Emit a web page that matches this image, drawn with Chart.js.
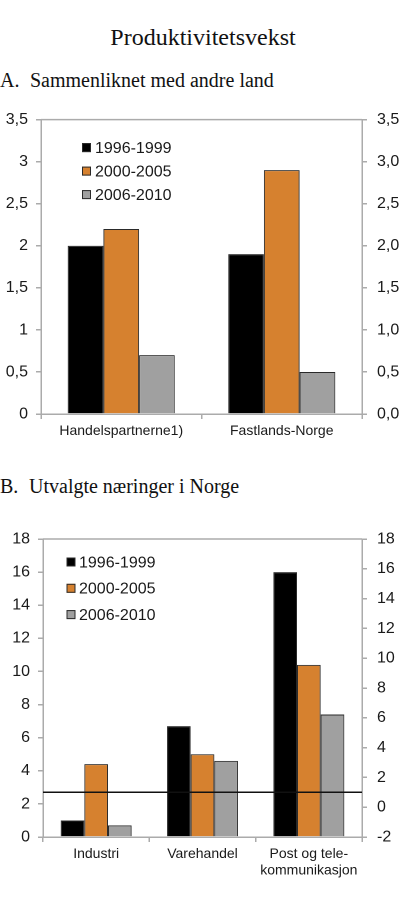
<!DOCTYPE html>
<html>
<head>
<meta charset="utf-8">
<script src="https://cdn.jsdelivr.net/npm/chart.js@4.4.1/dist/chart.umd.min.js"></script>
<style>
  html, body { margin: 0; padding: 0; background: #fff; }
  body { width: 400px; height: 905px; position: relative; overflow: hidden; }
  .t { position: absolute; font-family: "Liberation Serif", "Times New Roman", serif; color: #111; white-space: nowrap; line-height: 1; }
  #title { font-size: 24px; left: 0; width: 406px; text-align: center; top: 25px; }
  .sub { font-size: 20px; }
  .cv { position: absolute; left: 0; }
</style>
</head>
<body>
<div class="t" id="title">Produktivitetsvekst</div>
<div class="t sub" style="left:0;top:70px;">A.</div>
<div class="t sub" style="left:30px;top:70px;">Sammenliknet med andre land</div>
<div class="t sub" style="left:0;top:476px;">B.</div>
<div class="t sub" style="left:29px;top:476px;">Utvalgte næringer i Norge</div>
<canvas id="cA" class="cv" style="top:100px;" width="400" height="350"></canvas>
<canvas id="cB" class="cv" style="top:500px;" width="400" height="405"></canvas>
<script>
// ---- Data ----
const seriesLabels = ['1996-1999', '2000-2005', '2006-2010'];
const seriesColors = ['#000000', '#D6812F', '#A0A0A0'];

const categoriesA = ['Handelspartnerne1)', 'Fastlands-Norge'];
const a1996 = [2.0, 1.9];
const a2000 = [2.2, 2.9];
const a2006 = [0.7, 0.5];

const categoriesB = ['Industri', 'Varehandel', ['Post og tele-', 'kommunikasjon']];
const b1996 = [1.0, 6.7, 16.0];
const b2000 = [4.4, 5.0, 10.4];
const b2006 = [0.7, 4.6, 7.4];

const axisA = { min: 0, max: 3.5, step: 0.5 };
const axisB = { min: 0, max: 18, step: 2 };
const axisB2 = { min: -2, max: 18, step: 2 };
const refLineB = 1; // value on right axis of panel B

// ---- Styling helpers ----
const FONT = '"Liberation Sans", Arial, sans-serif';
const TXT = '#1a1a1a';
const FRAME = '#ababab';

function makeDatasets(vals) {
  return vals.map((v, i) => ({
    label: seriesLabels[i],
    data: v,
    backgroundColor: seriesColors[i],
    borderColor: '#2a2a2a',
    borderWidth: 1,
    categoryPercentage: 0.667,
    barPercentage: 1.0,
    yAxisID: 'y'
  }));
}

const framePlugin = {
  id: 'frame',
  beforeDatasetsDraw(chart) {
    const { ctx, chartArea: a } = chart;
    ctx.save();
    ctx.strokeStyle = FRAME;
    ctx.lineWidth = 1.5;
    ctx.beginPath();
    ctx.moveTo(a.left, a.top);
    ctx.lineTo(a.right, a.top);
    ctx.stroke();
    ctx.restore();
  }
};

const legendPlugin = {
  id: 'customLegend',
  afterDatasetsDraw(chart, args, opts) {
    const { ctx, chartArea: a } = chart;
    ctx.save();
    chart.data.datasets.forEach((ds, i) => {
      const cy = a.top + opts.y + i * opts.gap;
      const x = a.left + opts.x;
      ctx.fillStyle = ds.backgroundColor;
      ctx.fillRect(x, cy - 4.5, 9, 9);
      ctx.strokeStyle = '#2a2a2a';
      ctx.lineWidth = 1;
      ctx.strokeRect(x + 0.5, cy - 4, 8, 8);
      ctx.fillStyle = TXT;
      ctx.font = '16px ' + FONT;
      ctx.textBaseline = 'middle';
      ctx.textAlign = 'left';
      ctx.fillText(ds.label, x + opts.textDx, cy + 1);
    });
    ctx.restore();
  }
};

const refLinePlugin = {
  id: 'refLine',
  afterDatasetsDraw(chart, args, opts) {
    if (opts.value === undefined) return;
    const { ctx, chartArea: a } = chart;
    const y = chart.scales[opts.axis].getPixelForValue(opts.value);
    ctx.save();
    ctx.strokeStyle = '#111';
    ctx.lineWidth = 1.5;
    ctx.beginPath();
    ctx.moveTo(a.left, y);
    ctx.lineTo(a.right, y);
    ctx.stroke();
    ctx.restore();
  }
};

function fmtComma(v, fixed) {
  const s = fixed ? Number(v).toFixed(1) : String(Math.round(v * 10) / 10);
  return s.replace('.', ',');
}

function makeChart(id, cats, vals, o) {
  return new Chart(document.getElementById(id), {
    type: 'bar',
    data: { labels: cats, datasets: makeDatasets(vals) },
    plugins: [framePlugin, legendPlugin, refLinePlugin],
    options: {
      responsive: false,
      animation: false,
      devicePixelRatio: 2,
      layout: { padding: { top: o.padTop, left: 0, right: 0, bottom: 0 } },
      plugins: {
        legend: { display: false },
        tooltip: { enabled: false },
        customLegend: o.legend,
        refLine: o.ref || {}
      },
      scales: {
        x: {
          grid: { drawOnChartArea: false, drawTicks: true, tickLength: 5, color: FRAME, lineWidth: 1.5, offset: true },
          border: { display: true, color: FRAME, width: 1.5 },
          ticks: { color: TXT, font: { family: FONT, size: 14, lineHeight: 1.17 }, padding: 4, maxRotation: 0, autoSkip: false },
          afterFit: s => { s.height = o.xH; }
        },
        y: {
          position: 'left',
          min: o.left.min, max: o.left.max,
          grid: { drawOnChartArea: false, drawTicks: true, tickLength: 5, color: FRAME, lineWidth: 1.5 },
          border: { display: true, color: FRAME, width: 1.5 },
          ticks: { stepSize: o.left.step, color: TXT, font: { family: FONT, size: 16 }, padding: 8,
                   callback: v => fmtComma(v, false) },
          afterFit: s => { s.width = o.lW; }
        },
        y2: {
          position: 'right',
          min: o.right.min, max: o.right.max,
          grid: { drawOnChartArea: false, drawTicks: true, tickLength: 5, color: FRAME, lineWidth: 1.5 },
          border: { display: true, color: FRAME, width: 1.5 },
          ticks: { stepSize: o.right.step, color: TXT, font: { family: FONT, size: 16 }, padding: 10,
                   callback: v => fmtComma(v, o.rightFixed) },
          afterFit: s => { s.width = o.rW; }
        }
      }
    }
  });
}

makeChart('cA', categoriesA, [a1996, a2000, a2006], {
  padTop: 18, xH: 36, lW: 41, rW: 38,
  left: axisA, right: axisA, rightFixed: true,
  legend: { x: 41, y: 28, gap: 23.5, textDx: 13 }
});

makeChart('cB', categoriesB, [b1996, b2000, b2006], {
  padTop: 39, xH: 68, lW: 43, rW: 38,
  left: axisB, right: axisB2, rightFixed: false,
  legend: { x: 23.5, y: 23, gap: 26.3, textDx: 12.5 },
  ref: { axis: 'y2', value: refLineB }
});
</script>
</body>
</html>
